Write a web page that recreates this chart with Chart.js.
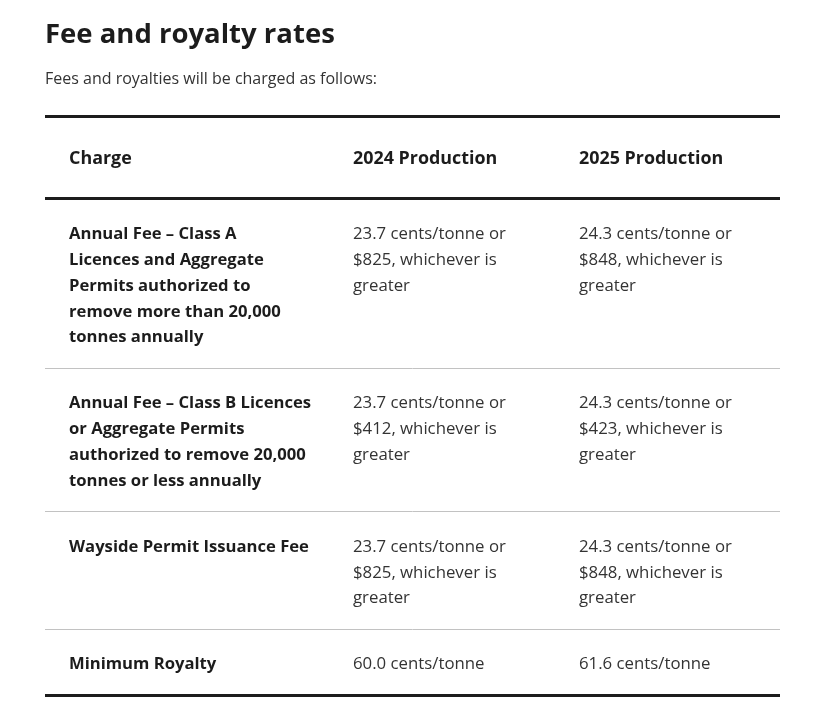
<!DOCTYPE html>
<html>
<head>
<meta charset="utf-8">
<script src="https://cdn.jsdelivr.net/npm/chart.js@4.4.1/dist/chart.umd.min.js"></script>
<style>
  html, body { margin: 0; background: #fff; }
</style>
</head>
<body>
<canvas id="c" width="828" height="728"></canvas>
<script>
// Text content of the table, one array per column, one entry per body row.
// Each cell is kept as its printed lines so wrapping matches the page.
const titleText = 'Fee and royalty rates';
const subtitleText = 'Fees and royalties will be charged as follows:';
const headers = ['Charge', '2024 Production', '2025 Production'];
const charges = [
	['Annual Fee – Class A', 'Licences and Aggregate', 'Permits authorized to', 'remove more than 20,000', 'tonnes annually'],
	['Annual Fee – Class B Licences', 'or Aggregate Permits', 'authorized to remove 20,000', 'tonnes or less annually'],
	['Wayside Permit Issuance Fee'],
	['Minimum Royalty'],
];
const rates2024 = [
	['23.7 cents/tonne or', '$825, whichever is', 'greater'],
	['23.7 cents/tonne or', '$412, whichever is', 'greater'],
	['23.7 cents/tonne or', '$825, whichever is', 'greater'],
	['60.0 cents/tonne'],
];
const rates2025 = [
	['24.3 cents/tonne or', '$848, whichever is', 'greater'],
	['24.3 cents/tonne or', '$423, whichever is', 'greater'],
	['24.3 cents/tonne or', '$848, whichever is', 'greater'],
	['61.6 cents/tonne'],
];

// layout (table units = px at this size)
const LINE = 26, PAD_TOP = 22.3, PAD_BOTTOM = 17.7, HEAD = 82.8, HEAD_SHIFT = 1.2, CELL_X = 24;
const COLS = [0, 284, 510, 735];
const FONT = '"Open Sans", sans-serif';

const rows = charges.map((c, i) => [c, rates2024[i], rates2025[i]]);
const edges = [0, HEAD];
rows.forEach(r => {
	const lines = Math.max(...r.map(cell => cell.length));
	edges.push(edges[edges.length - 1] + lines * LINE + PAD_TOP + PAD_BOTTOM);
});
const total = edges[edges.length - 1];

// draws rules + cell text positioned through the x/y scales
const tablePlugin = {
	id: 'table',
	afterDraw(chart) {
		const { ctx, scales: { x, y } } = chart;
		const left = x.getPixelForValue(COLS[0]);
		const right = x.getPixelForValue(COLS[COLS.length - 1]);
		ctx.save();
		edges.forEach((e, i) => {
			const heavy = i <= 1 || i === edges.length - 1;
			const py = Math.round(y.getPixelForValue(e) - 0.5) + 0.5;
			ctx.strokeStyle = heavy ? '#1c1c1c' : '#c2c2c2';
			ctx.lineWidth = heavy ? 3 : 1;
			ctx.beginPath();
			ctx.moveTo(left, py);
			ctx.lineTo(right, py);
			ctx.stroke();
		});
		ctx.textBaseline = 'middle';
		ctx.textAlign = 'left';
		ctx.font = `700 17.9px ${FONT}`;
		ctx.fillStyle = '#1c1c1c';
		headers.forEach((h, c) =>
			ctx.fillText(h, x.getPixelForValue(COLS[c]) + CELL_X, y.getPixelForValue(HEAD / 2 + HEAD_SHIFT)));
		rows.forEach((row, r) => row.forEach((lines, c) => {
			ctx.font = c === 0 ? `700 16.65px ${FONT}` : `400 16.8px ${FONT}`;
			ctx.fillStyle = c === 0 ? '#1c1c1c' : '#333';
			lines.forEach((t, k) => ctx.fillText(t,
				x.getPixelForValue(COLS[c]) + CELL_X,
				y.getPixelForValue(edges[r + 1] + PAD_TOP + (k + 0.5) * LINE)));
		}));
		ctx.restore();
	},
};

new Chart(document.getElementById('c'), {
	type: 'scatter',
	data: { datasets: [] },
	options: {
		responsive: false,
		animation: false,
		events: [],
		layout: { padding: { top: 18.5, left: 45, right: 48, bottom: 33 } },
		scales: {
			x: { type: 'linear', display: false, min: COLS[0], max: COLS[COLS.length - 1] },
			y: { type: 'linear', display: false, min: 0, max: total, reverse: true },
		},
		plugins: {
			legend: { display: false },
			tooltip: { enabled: false },
			title: {
				display: true, text: titleText, align: 'start', color: '#1c1c1c',
				font: { family: FONT, size: 27.5, weight: '700', lineHeight: 1.2 },
				padding: { top: 0, bottom: 18.1 },
			},
			subtitle: {
				display: true, text: subtitleText, align: 'start', color: '#333',
				font: { family: FONT, size: 16, weight: '400', lineHeight: 1.2 },
				padding: { top: 0, bottom: 27.7 },
			},
		},
	},
	plugins: [tablePlugin],
});
</script>
</body>
</html>
